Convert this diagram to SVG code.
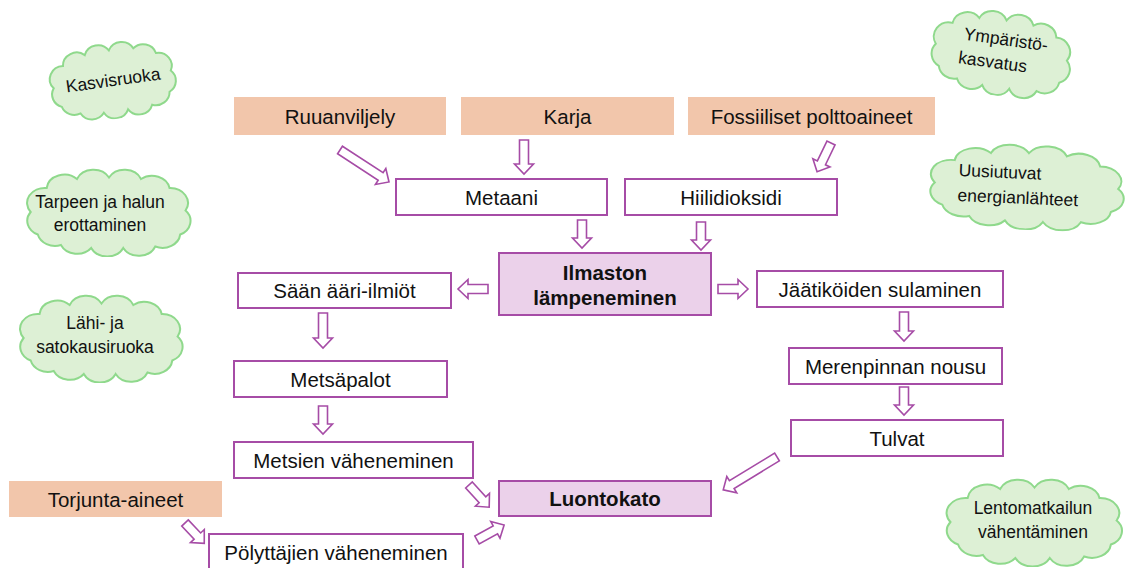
<svg xmlns="http://www.w3.org/2000/svg" width="1139" height="568" viewBox="0 0 1139 568">
<style>
.src{fill:#f2c6ab;stroke:none}
.box{fill:#ffffff;stroke:#a64ca6;stroke-width:2}
.key{fill:#ebd1ea;stroke:#a64ca6;stroke-width:2}
.t{font-family:"Liberation Sans",Arial,sans-serif;font-size:20.5px;fill:#111;text-anchor:middle;dominant-baseline:central}
.b{font-weight:bold}
.ct{font-family:"Liberation Sans",Arial,sans-serif;font-size:17.5px;fill:#111;text-anchor:middle}
.cl{fill:#ddf0d5;stroke:#8fd98c;stroke-width:2}
.arr{fill:#ffffff;stroke:#a64ca6;stroke-width:1.6;stroke-linejoin:miter}
</style>
<defs>
<symbol id="cloud" viewBox="0 0 200 120" preserveAspectRatio="none">
<path vector-effect="non-scaling-stroke" d="M12,60 A20,20 0 0 1 30,28 A20,20 0 0 1 64,16 A20,20 0 0 1 100,14 A20,20 0 0 1 136,16 A20,20 0 0 1 168,28 A20,20 0 0 1 186,58 A20,20 0 0 1 180,90 A20,20 0 0 1 152,106 A20,20 0 0 1 116,108 A20,20 0 0 1 80,108 A20,20 0 0 1 46,104 A20,20 0 0 1 20,90 A20,20 0 0 1 12,60 Z"/>
</symbol>
</defs>

<g id="cloud-kasvisruoka" transform="rotate(-8 113 80)">
<use href="#cloud" class="cl" x="45" y="41" width="136" height="78"/>
<text class="ct" x="113" y="86">Kasvisruoka</text>
</g>
<g id="cloud-tarpeen">
<use href="#cloud" class="cl" x="20" y="167" width="178" height="90"/>
<text class="ct" x="100" y="208">Tarpeen ja halun</text>
<text class="ct" x="100" y="231">erottaminen</text>
</g>
<g id="cloud-lahi">
<use href="#cloud" class="cl" x="13" y="293" width="177" height="90"/>
<text class="ct" x="95" y="329">Lähi- ja</text>
<text class="ct" x="95" y="353">satokausiruoka</text>
</g>
<g id="cloud-ymparisto" transform="rotate(8 1002 53)">
<use href="#cloud" class="cl" x="926" y="10" width="152" height="86"/>
<text class="ct" x="1004" y="45">Ympäristö-</text>
<text class="ct" x="994" y="69">kasvatus</text>
</g>
<g id="cloud-uusiutuvat" transform="rotate(2.5 1027 187)">
<use href="#cloud" class="cl" x="922" y="143" width="211" height="87"/>
<text class="ct" x="958" y="179" style="text-anchor:start">Uusiutuvat</text>
<text class="ct" x="958" y="204" style="text-anchor:start">energianlähteet</text>
</g>
<g id="cloud-lentomatkailun">
<use href="#cloud" class="cl" x="939" y="477" width="191" height="90"/>
<text class="ct" x="1033" y="514">Lentomatkailun</text>
<text class="ct" x="1033" y="538">vähentäminen</text>
</g>

<g id="n-ruuanviljely"><rect class="src" x="234" y="97" width="212" height="38"/><text class="t" x="340" y="116">Ruuanviljely</text></g>
<g id="n-karja"><rect class="src" x="461" y="97" width="213" height="38"/><text class="t" x="567.5" y="116">Karja</text></g>
<g id="n-fossiiliset"><rect class="src" x="688" y="97" width="247" height="38"/><text class="t" x="811.5" y="116">Fossiiliset polttoaineet</text></g>
<g id="n-torjunta"><rect class="src" x="9" y="481" width="213" height="36"/><text class="t" x="115.5" y="499">Torjunta-aineet</text></g>

<g id="n-metaani"><rect class="box" x="396" y="179" width="211" height="36"/><text class="t" x="501.5" y="197">Metaani</text></g>
<g id="n-hiilidioksidi"><rect class="box" x="625" y="179" width="212" height="36"/><text class="t" x="731" y="197">Hiilidioksidi</text></g>
<g id="n-ilmaston"><rect class="key" x="499" y="253" width="212" height="62"/><text class="t b" x="605" y="272">Ilmaston</text><text class="t b" x="605" y="297">lämpeneminen</text></g>
<g id="n-saan"><rect class="box" x="238" y="273" width="213" height="35"/><text class="t" x="344.5" y="290.5">Sään ääri-ilmiöt</text></g>
<g id="n-metsapalot"><rect class="box" x="234" y="361" width="213" height="36"/><text class="t" x="340.5" y="379">Metsäpalot</text></g>
<g id="n-metsien"><rect class="box" x="234" y="442" width="239" height="36"/><text class="t" x="353.5" y="460">Metsien väheneminen</text></g>
<g id="n-polyttajien"><rect class="box" x="209" y="534" width="254" height="38"/><text class="t" x="336" y="552">Pölyttäjien väheneminen</text></g>
<g id="n-luontokato"><rect class="key" x="499" y="481" width="212" height="35"/><text class="t b" x="605" y="498.5">Luontokato</text></g>
<g id="n-jaatikoiden"><rect class="box" x="757" y="271" width="246" height="36"/><text class="t" x="880" y="289">Jäätiköiden sulaminen</text></g>
<g id="n-merenpinnan"><rect class="box" x="789" y="348" width="213" height="36"/><text class="t" x="895.5" y="366">Merenpinnan nousu</text></g>
<g id="n-tulvat"><rect class="box" x="791" y="420" width="212" height="36"/><text class="t" x="897" y="438">Tulvat</text></g>

<g id="connectors">
<path class="arr" transform="translate(340 150) rotate(33.1)" d="M0,-4.5H48.5V-9.5L58.5,0L48.5,9.5V4.5H0Z"/>
<path class="arr" transform="translate(524 140) rotate(90)" d="M0,-4.5H24V-9.5L34,0L24,9.5V4.5H0Z"/>
<path class="arr" transform="translate(831 143) rotate(115.8)" d="M0,-4.5H22V-9.5L32,0L22,9.5V4.5H0Z"/>
<path class="arr" transform="translate(582 220) rotate(90)" d="M0,-4.5H18V-9.5L28,0L18,9.5V4.5H0Z"/>
<path class="arr" transform="translate(701 222) rotate(90)" d="M0,-4.5H18V-9.5L28,0L18,9.5V4.5H0Z"/>
<path class="arr" transform="translate(488 289) rotate(180)" d="M0,-4.5H20V-9.5L30,0L20,9.5V4.5H0Z"/>
<path class="arr" transform="translate(718 289)" d="M0,-4.5H20V-9.5L30,0L20,9.5V4.5H0Z"/>
<path class="arr" transform="translate(323 313) rotate(90)" d="M0,-4.5H25V-9.5L35,0L25,9.5V4.5H0Z"/>
<path class="arr" transform="translate(323 406) rotate(90)" d="M0,-4.5H18V-9.5L28,0L18,9.5V4.5H0Z"/>
<path class="arr" transform="translate(904 312) rotate(90)" d="M0,-4.5H19V-9.5L29,0L19,9.5V4.5H0Z"/>
<path class="arr" transform="translate(904 387) rotate(90)" d="M0,-4.5H18V-9.5L28,0L18,9.5V4.5H0Z"/>
<path class="arr" transform="translate(777 457) rotate(148.6)" d="M0,-4.5H53V-9.5L63,0L53,9.5V4.5H0Z"/>
<path class="arr" transform="translate(469 485) rotate(47.7)" d="M0,-4.5H20V-9.5L30,0L20,9.5V4.5H0Z"/>
<path class="arr" transform="translate(477 540) rotate(-29)" d="M0,-4.5H21V-9.5L31,0L21,9.5V4.5H0Z"/>
<path class="arr" transform="translate(185 523) rotate(46.5)" d="M0,-4.5H18V-9.5L28,0L18,9.5V4.5H0Z"/>
</g>
</svg>
